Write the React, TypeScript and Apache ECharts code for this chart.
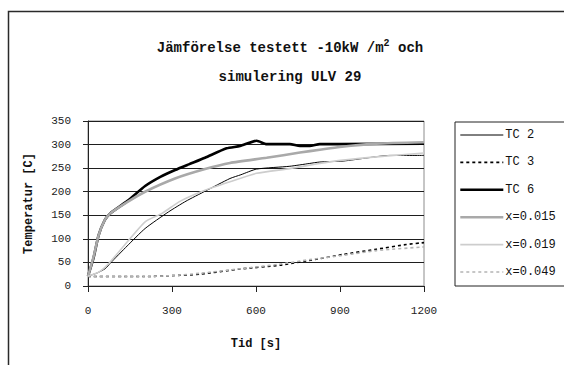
import React, { useEffect, useRef } from "react";
import * as echarts from "echarts";

// Measured thermocouple temperatures [s, °C]
const tc2 = [
  [0, 21], [30, 27], [62, 37], [79, 48], [140, 85], [204, 122], [287, 157],
  [350, 180], [418, 201], [507, 228], [546, 236], [602, 248], [721, 254],
  [792, 260], [828, 263], [911, 265], [1000, 272], [1077, 277], [1200, 277],
];
const tc3 = [
  [0, 20], [200, 20], [300, 22], [400, 25], [543, 36], [685, 44], [800, 55],
  [911, 67], [1030, 78], [1137, 88], [1200, 92],
];
const tc6 = [
  [0, 21], [20, 60], [38, 108], [60, 140], [79, 154], [140, 180], [204, 212],
  [260, 232], [311, 246], [360, 258], [418, 272], [495, 292], [543, 297],
  [602, 308], [638, 301], [721, 301], [757, 297], [792, 297], [828, 301],
  [899, 301], [1200, 302],
];

// Simulated temperatures at depth x [m]
const sim015 = [
  [0, 21], [20, 62], [38, 108], [60, 140], [79, 154], [140, 178], [204, 200],
  [311, 228], [418, 248], [507, 261], [638, 272], [757, 283], [828, 289],
  [899, 295], [1030, 302], [1200, 305],
];
const sim019 = [
  [0, 21], [40, 30], [70, 45], [121, 80], [204, 136], [264, 154], [330, 180],
  [418, 203], [507, 221], [602, 239], [721, 249], [828, 260], [911, 267],
  [1050, 275], [1200, 282],
];
const sim049 = [
  [0, 20], [200, 20], [300, 22], [400, 27], [550, 37], [680, 46], [792, 56],
  [911, 65], [1030, 75], [1200, 83],
];

const seriesNames = ["TC 2", "TC 3", "TC 6", "x=0.015", "x=0.019", "x=0.049"];
const seriesData = [tc2, tc3, tc6, sim015, sim019, sim049];

const titleLine1 = "Jämförelse testett -10kW /m";
const titleSup = "2";
const titleLine1End = " och";
const titleLine2 = "simulering ULV 29";
const xAxisTitle = "Tid [s]";
const yAxisTitle = "Temperatur [C]";

const lineStyles = [
  { color: "#000000", width: 1, type: "solid" },
  { color: "#000000", width: 1.6, type: [3, 3] },
  { color: "#000000", width: 2.6, type: "solid" },
  { color: "#a9a9a9", width: 2.6, type: "solid" },
  { color: "#cdcdcd", width: 1.6, type: "solid" },
  { color: "#b4b4b4", width: 1.6, type: [3, 3] },
];

const mono = "'Liberation Mono', 'DejaVu Sans Mono', monospace";

export default function App() {
  const ref = useRef<HTMLDivElement>(null);

  useEffect(() => {
    if (!ref.current) return;
    const chart = echarts.init(ref.current, undefined, { renderer: "svg" });
    chart.setOption({
      animation: false,
      backgroundColor: "#ffffff",
      graphic: [
        {
          type: "rect",
          shape: { x: 8.5, y: 11.5, width: 700, height: 500 },
          style: { fill: "none", stroke: "#2a2a2a", lineWidth: 1.5 },
          silent: true,
        },
        {
          type: "text",
          x: 290,
          y: 48,
          style: {
            text: `{a|${titleLine1}}{s|${titleSup}}{a|${titleLine1End}}`,
            align: "center",
            verticalAlign: "middle",
            rich: {
              a: { fontFamily: mono, fontWeight: "bold", fontSize: 14, fill: "#111", lineHeight: 20 },
              s: { fontFamily: mono, fontWeight: "bold", fontSize: 10, fill: "#111", lineHeight: 20, padding: [0, 0, 10, 0] },
            },
          },
        },
        {
          type: "text",
          x: 290,
          y: 77,
          style: {
            text: titleLine2,
            align: "center",
            verticalAlign: "middle",
            fontFamily: mono,
            fontWeight: "bold",
            fontSize: 14,
            fill: "#111",
          },
        },
      ],
      grid: {
        left: 88,
        top: 121,
        width: 336,
        height: 165,
        show: true,
        borderColor: "#8c8c8c",
        borderWidth: 1,
        backgroundColor: "transparent",
      },
      legend: {
        orient: "vertical",
        left: 455,
        top: 122,
        data: seriesNames.map((name, i) => ({
          name,
          lineStyle: {
            color: lineStyles[i].color,
            width: lineStyles[i].width,
            type: lineStyles[i].type,
          },
        })),
        itemWidth: 43,
        itemHeight: 14,
        itemGap: 13.4,
        padding: [6, 30, 7, 4],
        borderColor: "#222",
        borderWidth: 1,
        backgroundColor: "#ffffff",
        itemStyle: { opacity: 0, borderWidth: 0 },
        textStyle: {
          fontFamily: mono,
          fontSize: 12,
          lineHeight: 14,
          color: "#111",
          padding: [0, 0, 0, -3],
        },
      },
      xAxis: {
        type: "value",
        min: 0,
        max: 1200,
        interval: 300,
        name: xAxisTitle,
        nameLocation: "middle",
        nameGap: 52,
        nameTextStyle: { fontFamily: mono, fontWeight: "bold", fontSize: 12, color: "#111" },
        axisLine: { show: true, onZero: false, lineStyle: { color: "#222", width: 1 } },
        axisTick: { show: true, inside: false, length: 6, lineStyle: { color: "#222" } },
        axisLabel: {
          fontFamily: mono,
          fontSize: 11,
          color: "#222",
          margin: 19,
          formatter: (v: number) => String(v),
        },
        splitLine: { show: false },
      },
      yAxis: {
        type: "value",
        min: 0,
        max: 350,
        interval: 50,
        name: yAxisTitle,
        nameLocation: "middle",
        nameGap: 53,
        nameRotate: 90,
        nameTextStyle: { fontFamily: mono, fontWeight: "bold", fontSize: 12, color: "#111" },
        axisLine: { show: true, lineStyle: { color: "#222", width: 1 } },
        axisTick: { show: true, inside: false, length: 5, lineStyle: { color: "#222" } },
        axisLabel: { fontFamily: mono, fontSize: 11, color: "#222", margin: 17 },
        splitLine: { show: true, lineStyle: { color: "#1e1e1e", width: 1 } },
      },
      series: seriesNames.map((name, i) => ({
        name,
        type: "line",
        data: seriesData[i],
        symbol: "none",
        showSymbol: false,
        smooth: 0.2,
        lineStyle: lineStyles[i],
        itemStyle: { color: lineStyles[i].color },
      })),
    });
    return () => chart.dispose();
  }, []);

  return (
    <div
      ref={ref}
      style={{ position: "fixed", left: 0, top: 0, width: 564, height: 365 }}
    />
  );
}
